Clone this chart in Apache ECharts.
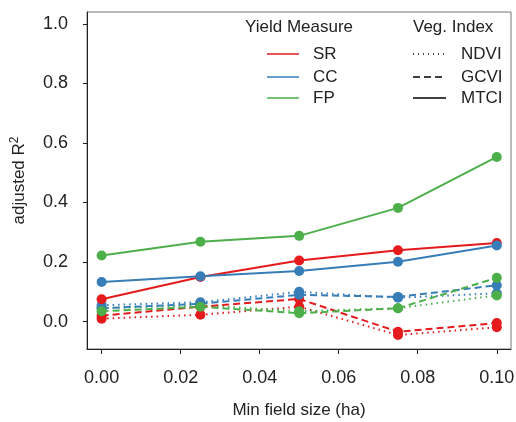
<!DOCTYPE html>
<html>
<head>
<meta charset="utf-8">
<script src="https://cdn.jsdelivr.net/npm/echarts@6/dist/echarts.min.js"></script>
<style>html,body{margin:0;padding:0;background:#fff;}#c{width:516px;height:422px;}</style>
</head>
<body>
<div id="c"></div>
<script>
const xValues = [0, 0.025, 0.05, 0.075, 0.1];
const xTicks = [0, 0.02, 0.04, 0.06, 0.08, 0.10];
const yTicks = [0, 0.2, 0.4, 0.6, 0.8, 1.0];

const SR_NDVI = [0.010, 0.023, 0.050, -0.045, -0.019];
const SR_GCVI = [0.020, 0.050, 0.076, -0.034, -0.005];
const SR_MTCI = [0.075, 0.150, 0.205, 0.240, 0.264];
const CC_NDVI = [0.055, 0.065, 0.100, 0.080, 0.095];
const CC_GCVI = [0.045, 0.060, 0.090, 0.083, 0.122];
const CC_MTCI = [0.133, 0.152, 0.170, 0.201, 0.256];
const FP_NDVI = [0.045, 0.055, 0.035, 0.045, 0.088];
const FP_GCVI = [0.035, 0.050, 0.028, 0.045, 0.147];
const FP_MTCI = [0.222, 0.268, 0.288, 0.382, 0.553];

const measures = ['SR', 'CC', 'FP'];
const indices = ['NDVI', 'GCVI', 'MTCI'];
const colors = { SR: '#E41A1C', CC: '#377EB8', FP: '#4DAF4A' };
const dash = { NDVI: [1.5, 4], GCVI: [7, 4], MTCI: 'solid' };
const table = {
  SR: { NDVI: SR_NDVI, GCVI: SR_GCVI, MTCI: SR_MTCI },
  CC: { NDVI: CC_NDVI, GCVI: CC_GCVI, MTCI: CC_MTCI },
  FP: { NDVI: FP_NDVI, GCVI: FP_GCVI, MTCI: FP_MTCI }
};

const series = [];
indices.forEach(function (idx) {
  measures.forEach(function (m) {
    series.push({
      name: m + ' ' + idx,
      type: 'line',
      data: xValues.map(function (x, i) { return [x, table[m][idx][i]]; }),
      symbol: 'circle',
      symbolSize: 10,
      itemStyle: { color: colors[m] },
      lineStyle: { color: colors[m], width: 2, type: dash[idx] },
      z: idx === 'MTCI' ? 3 : 2,
      animation: false
    });
  });
});

const font = 'Liberation Sans, Arial, sans-serif';
const txt = '#222';
const graphic = [];
function addText(x, y, s) {
  graphic.push({ type: 'text', x: x, y: y, style: { text: s, font: '17px ' + font, fill: txt, verticalAlign: 'middle' } });
}
function addLine(x1, x2, y, color, type) {
  graphic.push({ type: 'line', shape: { x1: x1, y1: y, x2: x2, y2: y }, style: { stroke: color, lineWidth: 1.5, lineDash: type === 'solid' ? null : type } });
}
addText(245, 27, 'Yield Measure');
addText(413, 27, 'Veg. Index');
const rowsY = [54, 77, 98];
measures.forEach(function (m, i) {
  addLine(267, 299, rowsY[i], colors[m], 'solid');
  addText(313, rowsY[i], m);
});
indices.forEach(function (idx, i) {
  addLine(413, 446, rowsY[i], '#000', idx === 'NDVI' ? [1, 4] : (idx === 'GCVI' ? [7, 4] : 'solid'));
  addText(461, rowsY[i], idx);
});

const chart = echarts.init(document.getElementById('c'), null, { renderer: 'canvas' });
chart.setOption({
  animation: false,
  textStyle: { fontFamily: font },
  grid: { left: 87, right: 5, top: 12, bottom: 73, show: true, borderColor: '#777', borderWidth: 1, containLabel: false, outerBoundsMode: 'none' },
  xAxis: {
    type: 'value', min: -0.0037, max: 0.1036,
    name: 'Min field size (ha)', nameLocation: 'middle', nameGap: 53,
    nameTextStyle: { fontSize: 17, color: txt, fontFamily: font },
    axisLine: { show: true, onZero: false, lineStyle: { color: '#222', width: 1 } },
    axisTick: { show: true, inside: false, length: 5, lineStyle: { color: '#222' }, customValues: xTicks },
    axisLabel: { fontSize: 18, color: txt, margin: 20, customValues: xTicks, formatter: function (v) { return v.toFixed(2); } },
    splitLine: { show: false }
  },
  yAxis: {
    type: 'value', min: -0.092, max: 1.040,
    name: '{a|adjusted R}{s|2}', nameLocation: 'middle', nameGap: 58, nameRotate: 90,
    nameTextStyle: {
      fontSize: 17, color: txt, fontFamily: font,
      rich: { a: { fontSize: 17, color: txt, fontFamily: font }, s: { fontSize: 12, color: txt, fontFamily: font, verticalAlign: 'top', padding: [0, 0, 8, 0] } }
    },
    axisLine: { show: true, onZero: false, lineStyle: { color: '#222', width: 1 } },
    axisTick: { show: true, inside: false, length: 4, lineStyle: { color: '#222' }, customValues: yTicks },
    axisLabel: { fontSize: 18, color: txt, margin: 19, customValues: yTicks, formatter: function (v) { return v.toFixed(1); } },
    splitLine: { show: false }
  },
  graphic: graphic,
  series: series
});
</script>
</body>
</html>
